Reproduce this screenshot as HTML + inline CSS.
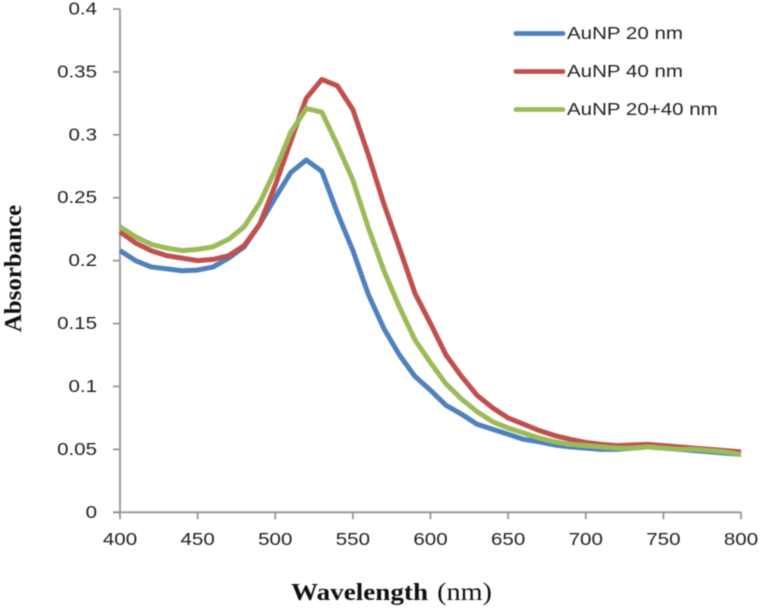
<!DOCTYPE html>
<html lang="en">
<head>
<meta charset="utf-8">
<title>Absorbance vs Wavelength</title>
<style>
html,body{margin:0;padding:0;background:#fff;width:761px;height:610px;overflow:hidden}
svg{display:block;filter:blur(0.5px)}
text{font-family:"Liberation Sans",sans-serif;fill:#222}
.title{font-family:"Liberation Serif",serif;fill:#111}
</style>
</head>
<body>
<svg id="chart" width="761" height="610" viewBox="0 0 761 610" xmlns="http://www.w3.org/2000/svg"></svg>
<script>
const wavelengths = [400,410,420,430,440,450,460,470,480,490,500,510,520,530,540,550,560,570,580,590,600,610,620,630,640,650,660,670,680,690,700,710,720,730,740,750,760,770,780,790,800];
const aunp20 = [.208,.2,.195,.1935,.192,.1925,.195,.202,.211,.229,.25,.27,.28,.271,.238,.208,.173,.146,.125,.108,.097,.085,.078,.07,.066,.062,.058,.056,.0535,.052,.051,.05,.05,.051,.052,.051,.05,.049,.048,.047,.046];
const aunp40 = [.223,.214,.208,.204,.202,.2,.201,.204,.212,.229,.26,.295,.329,.344,.339,.32,.284,.245,.21,.174,.15,.125,.108,.093,.083,.075,.07,.065,.061,.058,.0555,.054,.053,.0535,.054,.053,.052,.051,.05,.049,.048];
const aunp2040 = [.227,.219,.213,.21,.208,.209,.211,.217,.227,.246,.272,.302,.321,.318,.292,.264,.226,.192,.163,.137,.119,.102,.09,.08,.072,.067,.063,.059,.056,.054,.053,.052,.051,.051,.052,.051,.05,.05,.049,.048,.046];
const seriesNames = ["AuNP 20 nm","AuNP 40 nm","AuNP 20+40 nm"];
const xTicks = [400,450,500,550,600,650,700,750,800];
const yTicks = [0,0.05,0.1,0.15,0.2,0.25,0.3,0.35,0.4];

const NS = "http://www.w3.org/2000/svg";
const svg = document.getElementById("chart");
const colors = ["#4f81bd","#c0504d","#9bbb59"];
const xScale = v => 120 + (v - 400) * (741 - 120) / 400;
const yScale = v => 512.3 - v * (512.3 - 9) / 0.4;

function el(tag, attrs, parent) {
  const n = document.createElementNS(NS, tag);
  for (const k in attrs) n.setAttribute(k, attrs[k]);
  (parent || svg).appendChild(n);
  return n;
}
function label(x, y, str, anchor, parent) {
  const t = el("text", {transform:`translate(${x} ${y}) scale(1.14 1)`, "text-anchor":anchor, "font-size":"18"}, parent);
  t.textContent = str;
  return t;
}
const axisColor = "#969696";

const yAxis = el("line", {x1:120,x2:120,y1:yScale(0.4),y2:yScale(0),stroke:axisColor,"stroke-width":1.8});


const xAxis = el("line", {x1:113,x2:741,y1:yScale(0),y2:yScale(0),stroke:axisColor,"stroke-width":1.8});



yTicks.forEach(v => {
  const tick = el("line", {x1:113,x2:120,y1:yScale(v),y2:yScale(v),stroke:axisColor,"stroke-width":1.8});
  
  
  const t = label(97, yScale(v) + 5.5, String(v), "end");
  
  
});
xTicks.forEach(v => {
  const tick = el("line", {x1:xScale(v),x2:xScale(v),y1:yScale(0),y2:yScale(0)+7,stroke:axisColor,"stroke-width":1.8});
  
  
  const t = label(xScale(v), 545, String(v), "middle");
  
  
});

[aunp20, aunp40, aunp2040].forEach((vals, i) => {
  const d = vals.map((v, j) => (j ? "L" : "M") + xScale(wavelengths[j]).toFixed(2) + " " + yScale(v).toFixed(2)).join(" ");
  const p = el("path", {d, fill:"none", stroke:colors[i], "stroke-width":5, "stroke-linejoin":"round"});
  
  
});

const legendY = [33.5, 71.5, 109.5];
seriesNames.forEach((name, i) => {
  const g = el("g", {});
  
  
  el("line", {x1:516,x2:563,y1:legendY[i],y2:legendY[i],stroke:colors[i],"stroke-width":4.8,"stroke-linecap":"round"}, g);
  label(567, legendY[i] + 5.5, name, "start", g);
});

const xt = el("text", {class:"title", transform:"translate(291 600) scale(1.13 1)", "font-size":"24"});


const xb = el("tspan", {"font-weight":"bold"}, xt);
xb.textContent = "Wavelength";
const xn = el("tspan", {dx:"8", "font-size":"25"}, xt);
xn.textContent = "(nm)";

const yt = el("text", {class:"title", transform:"translate(21 268.5) rotate(-90) scale(1.04 1)", "text-anchor":"middle", "font-size":"24", "font-weight":"bold"});


yt.textContent = "Absorbance";
</script>
</body>
</html>
